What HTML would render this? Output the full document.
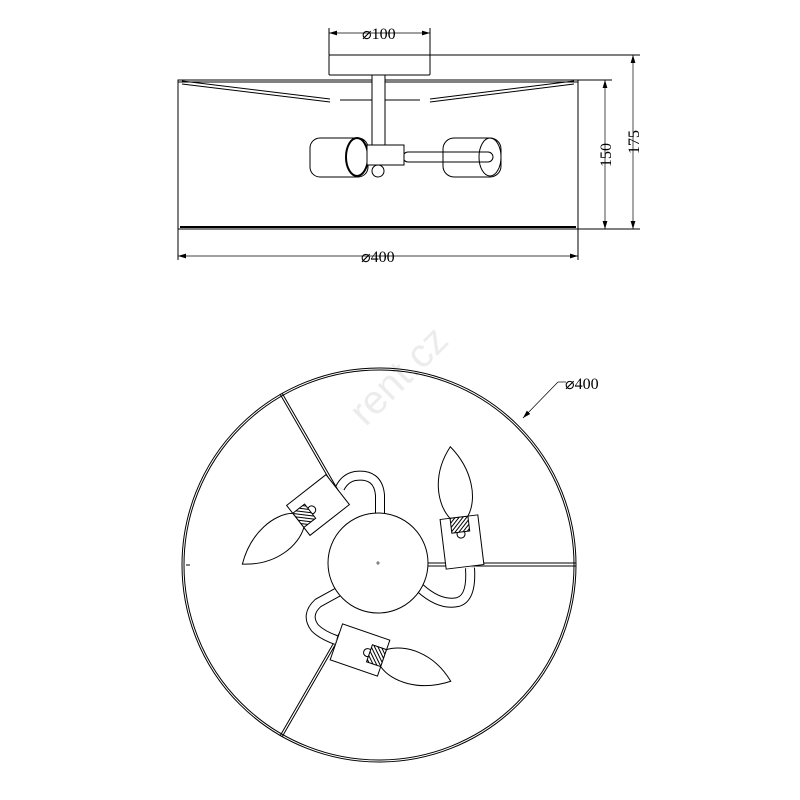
<!DOCTYPE html>
<html><head><style>body{margin:0;background:#fff}svg{display:block}</style></head>
<body>
<svg width="800" height="800" viewBox="0 0 800 800" xmlns="http://www.w3.org/2000/svg" font-family="Liberation Serif, serif">
<defs>
<pattern id="h" width="3" height="3" patternUnits="userSpaceOnUse" patternTransform="rotate(45)"><rect width="3" height="3" fill="#fff"/><line x1="0" y1="0" x2="0" y2="3" stroke="#000" stroke-width="2"/></pattern>
<marker id="a" viewBox="0 0 10 6" refX="10" refY="3" markerWidth="8" markerHeight="5" orient="auto-start-reverse" markerUnits="userSpaceOnUse"><path d="M0,0 L10,3 L0,6 Z" fill="#000"/></marker>
<g id="lamp" fill="#fff" stroke="#000" stroke-width="1">
 <rect x="-19" y="-25" width="38" height="50"/>
 <circle cx="0" cy="-8" r="4"/>
 <rect x="-9" y="-25" width="18" height="15" fill="url(#h)"/>
 <path d="M-9,-25 C-20,-40 -22,-70 0,-96 C20,-70 20,-40 9,-25 Z"/>
</g>
</defs>
<text transform="translate(408,385) rotate(-45)" text-anchor="middle" font-family="Liberation Sans, sans-serif" font-size="40" fill="#ececec">rent.cz</text>
<g fill="none" stroke="#000" stroke-width="1">
<rect x="329" y="55" width="101" height="20" rx="1"/>
<rect x="178" y="80" width="400" height="149"/>
<line x1="178" y1="82" x2="578" y2="82"/>
<path d="M182,81 L330,99 M182,84 L330,102 M574,81 L430,99 M574,84 L430,102"/>
<line x1="340" y1="100" x2="420" y2="100"/>
<rect x="372" y="75" width="13" height="70" fill="#fff"/>
<rect x="310" y="138" width="58" height="39" rx="10" fill="#fff"/>
<ellipse cx="357" cy="157" rx="11" ry="19" stroke-width="2" fill="#fff"/>
<rect x="403" y="152" width="90" height="10" rx="5" fill="#fff"/>
<rect x="443" y="138" width="58" height="39" rx="11"/>
<ellipse cx="490" cy="157" rx="11" ry="19"/>
<rect x="367" y="145" width="37" height="20" fill="#fff"/>
<circle cx="378" cy="171" r="6" fill="#fff"/>
<line x1="180" y1="227" x2="576" y2="227" stroke-width="2"/>
<path d="M329,55 V28 M430,55 V28"/>
<path d="M329,33 H430" marker-start="url(#a)" marker-end="url(#a)" stroke-width="0.7"/>
<path d="M178,229 V260 M578,229 V260"/>
<path d="M178,256 H578" marker-start="url(#a)" marker-end="url(#a)" stroke-width="0.7"/>
<path d="M430,55 H640 M578,80 H612 M578,229 H640"/>
<path d="M605,80 V229" marker-start="url(#a)" marker-end="url(#a)" stroke-width="0.7"/>
<path d="M633,55 V229" marker-start="url(#a)" marker-end="url(#a)" stroke-width="0.7"/>
<circle cx="379" cy="565" r="197"/>
<circle cx="379" cy="565" r="195"/>
<path d="M280,394 L340,498 M282,393 L342,497 M428,563 L576,563 M428,566 L576,566 M280,736 L340,632 M282,737 L342,633"/>
<path d="M420,588 Q440,606 458,602 Q472,598 470,568" stroke-width="10"/>
<path d="M420,588 Q440,606 458,602 Q472,598 470,568" stroke="#fff" stroke-width="8"/>
<path d="M380,515 L380,495 Q378,473 355,476 Q345,478 340,488" stroke-width="10"/>
<path d="M380,515 L380,495 Q378,473 355,476 Q345,478 340,488" stroke="#fff" stroke-width="8"/>
<path d="M338,592 L318,603 Q305,615 315,628 Q322,635 336,640" stroke-width="10"/>
<path d="M338,592 L318,603 Q305,615 315,628 Q322,635 336,640" stroke="#fff" stroke-width="8"/>
<circle cx="378" cy="563" r="50" fill="#fff"/>
<path d="M376,563 H380 M378,561 V565" stroke-width="0.6"/>
<path d="M558,382 L523,418" marker-end="url(#a)" stroke-width="0.7"/>
<path d="M558,382 H566" stroke-width="0.7"/>
<line x1="186" y1="565" x2="190" y2="565"/>
</g>
<use href="#lamp" transform="translate(462,542) rotate(-7)"/>
<use href="#lamp" transform="translate(318,505) rotate(-128)"/>
<use href="#lamp" transform="translate(360,650) rotate(109)"/>
<g font-size="16" fill="#000">
<text x="362" y="39">⌀100</text>
<text x="361" y="262">⌀400</text>
<text x="565" y="389">⌀400</text>
<text transform="translate(611,155) rotate(-90)" text-anchor="middle">150</text>
<text transform="translate(639,142) rotate(-90)" text-anchor="middle">175</text>
</g>
</svg>
</body></html>
